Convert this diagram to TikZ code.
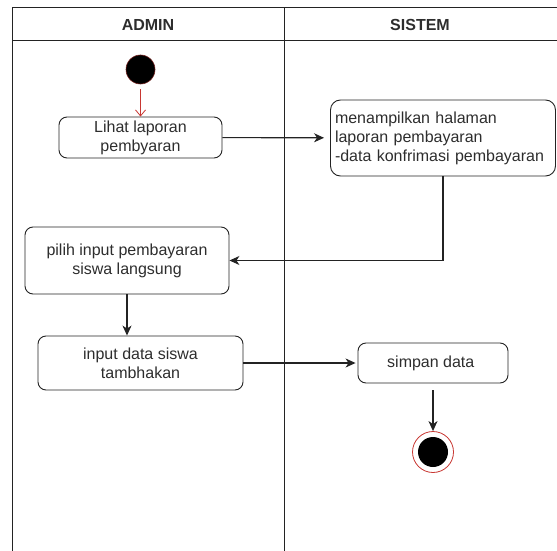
\documentclass[tikz,border=0pt]{standalone}
\usepackage{fontspec}
\setmainfont{Liberation Sans}
\usepackage{xcolor}
\usepackage{tikz}
\usetikzlibrary{arrows.meta, positioning, calc}
\definecolor{startred}{RGB}{200, 55, 50}
\definecolor{linegray}{RGB}{35, 35, 35}
\definecolor{textgray}{RGB}{45, 45, 45}

\begin{document}
\begin{tikzpicture}[
    x=1pt, y=-1pt,
    font=\fontsize{16}{19}\selectfont,
    lane/.style={draw=linegray, line width=1pt},
    lanehead/.style={font=\fontsize{16}{19}\selectfont\bfseries, text=textgray},
    activity/.style={rectangle, rounded corners=8pt, draw=linegray, line width=0.9pt,
                     text=textgray, align=center, inner sep=2pt},
    startstate/.style={circle, fill=black, draw=startred!55!black, line width=0.6pt,
                       minimum size=29pt, inner sep=0pt},
    endstate/.style={circle, draw=startred, line width=0.8pt, minimum size=41pt, inner sep=0pt,
                     path picture={\fill[black] (path picture bounding box.center) circle (15pt);}},
    flow/.style={-{Stealth[length=10pt, width=9pt, inset=3pt]}, draw=linegray, line width=1.1pt},
    startflow/.style={-{Straight Barb[length=6pt, width=10pt]}, draw=startred, line width=0.8pt}
]
    \useasboundingbox (0,0) rectangle (557,551);

    % Swimlanes
    \draw[lane] (12,551) -- (12,8) -- (557,8);
    \draw[lane] (12,41) -- (557,41);
    \draw[lane] (284,8) -- (284,551);
    \node[lanehead] (admin) at (148,25) {ADMIN};
    \node[lanehead] (sistem) at (420,25) {SISTEM};

    \node[startstate] (start) at (140.5, 69.5) {};

    \node[activity, minimum width=163pt, minimum height=41pt] (lihat) at (140.5, 137.5) {
        Lihat laporan\\pembyaran
    };

    \node[activity, rounded corners=10pt, minimum width=225pt, minimum height=76pt,
          text width=216pt, inner xsep=4.5pt, align=left] (tampil) at (443, 138) {
        menampilkan halaman\\
        laporan pembayaran\\
        -data konfrimasi pembayaran
    };

    \node[activity, minimum width=204pt, minimum height=67pt] (pilih) at (127, 260.5) {
        pilih input pembayaran\\siswa langsung
    };

    \node[activity, minimum width=205pt, minimum height=54pt] (inputdata) at (140.5, 363) {
        input data siswa\\tambhakan
    };

    \node[activity, minimum width=150pt, minimum height=40pt] (simpan) at (433, 363) {
        simpan data
    };

    \node[endstate] (finish) at (433, 452) {};

    % Arrows
    \draw[startflow, shorten <=5pt] (start) -- (lihat);
    \draw[flow, shorten >=6pt] (lihat) -- (tampil);
    \draw[flow] (tampil) |- (pilih);
    \draw[flow] (pilih.south) -- (pilih.south |- inputdata.north);
    \draw[flow, shorten >=2pt] (inputdata) -- (simpan);
    \draw[flow, shorten <=7pt] (simpan) -- (finish);
\end{tikzpicture}
\end{document}
